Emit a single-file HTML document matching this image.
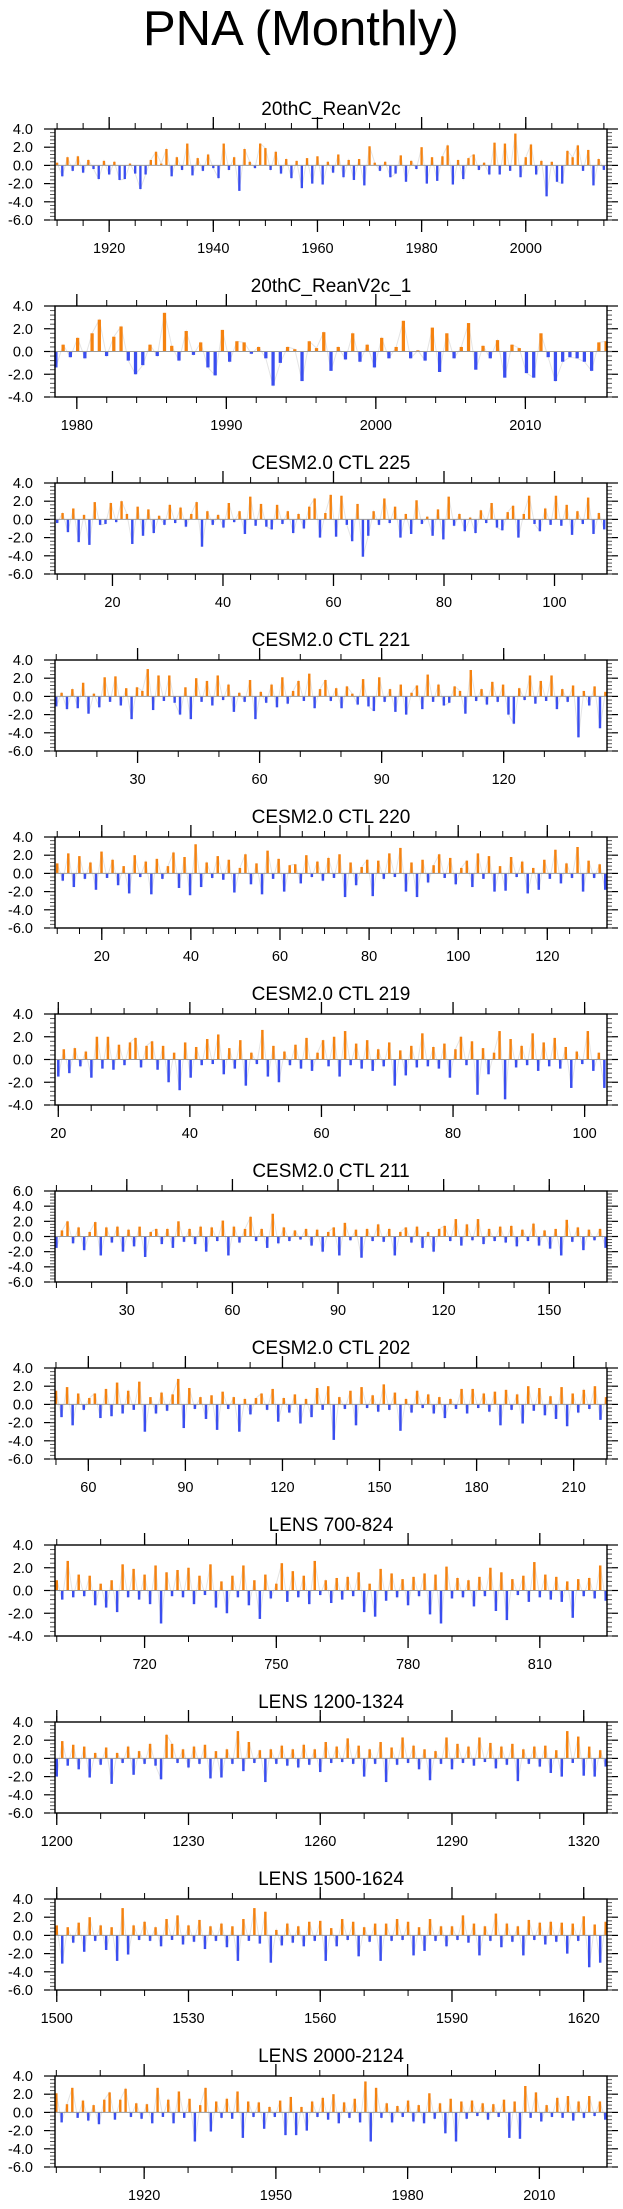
<!DOCTYPE html>
<html><head><meta charset="utf-8">
<style>
html,body{margin:0;padding:0;background:#fff;}
svg{display:block;font-family:"Liberation Sans",Arial,sans-serif;}
</style></head>
<body>
<svg id="chart" width="623" height="2209" viewBox="0 0 623 2209" xmlns="http://www.w3.org/2000/svg">
<text x="143" y="45" font-size="49">PNA (Monthly)</text>
</svg>
<script>
const panelTitles = ["20thC_ReanV2c","20thC_ReanV2c_1","CESM2.0 CTL 225","CESM2.0 CTL 221","CESM2.0 CTL 220","CESM2.0 CTL 219","CESM2.0 CTL 211","CESM2.0 CTL 202","LENS 700-824","LENS 1200-1324","LENS 1500-1624","LENS 2000-2124"];
const xDomains = [[1909.6,2015.6],[1978.54,2015.46],[9.6,109.5],[9.7,145.4],[9.5,133.4],[19.5,103.4],[9.6,166.4],[49.7,220.3],[699.6,825.3],[1199.6,1325.3],[1499.6,1625.3],[1899.7,2025.4]];
const dataSpans = [[1910,2015],[1978.6,2015.4],[10,109],[10,145],[10,133],[20,103],[10,166],[50,220],[700,825],[1200,1325],[1500,1625],[1900,2025]];
const yDomains = [[-6,4],[-4,4],[-6,4],[-6,4],[-6,4],[-4,4],[-6,6],[-6,4],[-4,4],[-6,4],[-6,4],[-6,4]];
const majorTicks = [[1920,1940,1960,1980,2000],[1980,1990,2000,2010],[20,40,60,80,100],[30,60,90,120],[20,40,60,80,100,120],[20,40,60,80,100],[30,60,90,120,150],[60,90,120,150,180,210],[720,750,780,810],[1200,1230,1260,1290,1320],[1500,1530,1560,1590,1620],[1920,1950,1980,2010]];
const minorSteps = [5,2,5,10,5,5,10,10,10,10,10,10];
const s0 = [0.3,-1.2,0.9,-0.6,1.0,-0.8,0.6,-0.4,-1.5,0.5,-1.0,0.4,-1.6,-1.5,0.2,-0.9,-2.6,-1.0,0.6,1.5,0.2,1.8,-1.2,0.9,-0.5,2.4,-1.1,0.8,-0.6,1.2,-0.3,-1.4,2.4,-0.5,0.9,-2.8,1.8,0.4,-0.3,2.4,1.9,-0.5,1.5,-0.9,0.7,-1.4,0.5,-2.5,0.8,-2.0,1.0,-2.1,0.4,-0.8,1.2,-1.3,0.6,-1.6,0.7,-2.2,2.1,0.3,-0.6,0.4,-1.3,-0.9,1.1,-1.8,0.5,-0.4,2.0,-2.0,0.9,-1.7,1.0,2.2,-2.1,0.6,-1.5,0.8,1.2,-0.5,0.3,-1.0,2.5,-1.0,2.4,-0.6,3.5,-1.3,0.9,2.3,-1.0,0.5,-3.4,0.4,-1.8,-2.0,1.6,0.9,2.2,-0.6,1.7,-2.2,0.7,-0.5];
const s1 = [-1.4,0.6,-0.5,1.2,-0.6,1.6,2.8,-0.4,1.3,2.2,-0.8,-2.0,-1.2,0.6,-0.4,3.4,0.5,-0.8,1.8,-0.3,0.8,-1.4,-2.1,1.9,-0.9,0.9,0.8,-0.2,0.4,-0.6,-3.0,-1.0,0.4,0.2,-2.6,0.9,0.3,1.7,-1.7,0.4,-0.7,1.6,-0.9,0.6,-1.4,1.2,-0.6,0.4,2.7,-0.6,0.1,-0.8,2.1,-1.8,1.6,-0.6,0.4,2.5,-1.6,0.5,-0.6,1.0,-2.3,0.6,0.3,-1.9,-2.3,1.6,-0.5,-2.6,-0.9,-0.5,-0.6,-0.9,-1.7,0.8,0.9];
const s2 = [-0.4,0.7,-1.4,1.2,-2.5,0.5,-2.8,1.9,-0.6,-0.5,1.8,-0.3,2.0,0.6,-2.7,1.4,-1.8,1.1,-1.5,0.4,-0.6,1.6,-0.4,1.3,-0.8,0.6,1.9,-3.0,0.9,-0.6,0.5,-0.9,1.8,-0.3,0.9,-1.6,2.5,-0.7,1.7,-0.8,-1.1,1.6,-0.5,0.9,-1.5,0.6,-1.0,1.4,2.3,-2.0,0.7,2.7,-1.9,2.6,-0.6,-2.4,1.7,-4.1,-1.8,0.9,-0.6,2.3,-0.4,1.4,-2.0,0.6,-1.6,2.1,-0.5,0.3,-1.8,1.1,-2.2,2.5,-0.7,0.6,-1.3,0.2,-1.5,1.0,-0.4,1.8,-0.9,-1.2,0.8,1.5,-2.0,0.6,2.6,-0.5,-1.3,1.2,-0.6,2.6,-0.7,1.6,-1.7,0.9,-0.5,2.4,-1.6,0.7,-1.1];
const s3 = [-1.1,0.4,-1.4,0.8,-1.3,1.5,-1.9,0.3,-1.2,2.1,-0.6,2.2,-1.0,0.9,-2.5,1.0,0.6,3.0,-1.5,2.3,-0.5,2.3,-0.7,-2.0,1.0,-2.5,2.0,-0.6,1.7,-1.0,2.3,-0.4,1.3,-1.7,0.4,-0.6,1.8,-2.5,0.5,-0.7,1.3,-1.2,2.1,-0.8,0.6,1.7,-0.5,2.5,-1.3,0.8,1.8,-0.5,0.9,-1.3,1.1,0.3,-0.9,1.9,-1.1,-1.6,2.1,-0.6,0.8,-1.7,1.3,-2.0,0.4,1.2,-1.4,2.4,-0.6,1.3,-1.0,-0.7,1.1,0.6,-1.9,2.9,-0.5,0.8,-0.9,1.6,-0.6,1.3,-2.0,-3.0,0.9,-0.4,2.3,-0.8,1.7,-0.5,2.3,-1.4,0.8,-0.6,1.2,-4.5,0.6,-1.0,1.1,-3.5,0.5];
const s4 = [1.1,-0.8,2.2,-1.5,1.9,-0.6,1.2,-1.8,2.4,-0.5,1.5,-1.3,0.8,-2.2,2.0,-0.4,1.3,-2.3,1.6,-0.6,0.8,2.3,-1.6,1.8,-2.4,3.2,-1.5,1.2,-0.5,1.9,-0.7,1.5,-2.1,0.6,2.1,-1.2,1.1,-2.3,2.5,-0.6,1.6,-2.0,0.9,1.0,-1.1,2.0,-0.4,1.3,-0.8,1.7,-0.5,2.1,-2.6,1.2,-1.3,0.7,1.5,-2.5,1.4,-0.6,2.2,-0.4,2.8,-2.0,1.2,-2.6,1.5,-1.0,0.9,2.1,-0.5,1.7,-1.2,0.6,1.4,-1.5,2.2,-0.6,1.9,-2.0,0.8,-1.9,1.8,-0.4,1.3,-2.2,0.6,-1.8,1.5,-0.6,2.6,-1.1,1.1,-0.5,2.9,-2.0,1.4,-0.5,1.0,-1.8];
const s5 = [-1.5,0.9,-1.2,1.0,-0.6,0.7,-1.6,2.0,-0.8,2.0,-0.9,1.3,-0.5,1.5,1.9,-0.7,1.2,1.6,-0.9,1.2,-2.0,0.6,-2.7,1.5,-1.6,1.1,-0.5,1.8,-0.4,2.2,-1.3,1.0,-0.8,1.7,-2.3,0.6,-0.4,2.6,-1.5,1.2,-2.0,0.7,-0.5,1.3,-0.8,1.9,-1.0,0.6,1.7,-0.6,2.0,-1.5,2.5,-0.5,1.4,-0.8,1.7,-1.0,0.9,-0.6,1.5,-2.3,0.8,-1.4,1.2,-0.7,2.3,-0.6,1.1,-0.8,1.4,-1.6,0.9,2.0,-0.5,1.6,-3.1,1.0,-1.3,0.6,2.5,-3.5,1.8,-0.7,1.2,-0.5,2.3,-1.0,1.5,-0.6,1.9,-0.8,1.1,-2.5,0.7,-0.4,2.5,-1.0,0.6,-2.5];
const s6 = [-1.5,0.8,2.0,-0.9,1.2,-1.8,0.6,1.9,-2.5,1.2,-0.8,1.3,-2.0,0.9,-1.3,1.3,-2.7,0.6,1.0,-1.0,1.0,-1.5,2.0,-0.7,1.0,-1.0,1.3,-2.0,1.2,-0.6,2.1,-2.5,1.3,-0.8,1.0,2.6,-0.6,1.0,-1.5,3.0,-0.9,1.2,-0.6,0.8,-0.4,1.0,-1.2,0.9,-2.0,0.6,1.2,-2.5,1.8,-0.5,0.9,-2.8,1.0,-0.6,1.6,-0.7,1.0,-2.5,0.6,1.2,-0.8,1.3,-1.5,0.6,-2.0,1.0,1.4,-0.6,2.3,-1.2,1.6,-0.5,2.3,-1.0,1.0,-0.6,1.3,-0.8,1.4,-1.3,0.9,-0.6,1.7,-1.2,0.8,-1.6,1.0,-2.5,2.2,-0.7,1.2,-1.8,0.9,-0.5,1.0,-1.5];
const s7 = [1.5,-1.4,1.9,-2.3,1.2,-0.6,0.7,1.2,-1.5,1.7,-1.3,2.4,-1.0,1.5,-0.6,2.5,-3.0,0.8,-1.0,1.3,-0.7,1.1,2.8,-2.6,1.8,-0.5,0.8,-1.6,1.0,-2.8,1.4,-0.5,0.8,-3.0,0.6,-1.1,0.7,1.2,-0.6,1.7,-1.9,0.7,-0.9,1.1,-2.1,0.6,-1.4,1.8,-0.6,2.0,-3.9,0.8,-0.5,1.5,-2.3,1.9,-0.4,1.0,-0.8,2.2,-0.6,1.3,-2.9,0.6,-0.9,1.5,-0.4,1.1,-1.0,0.8,-1.5,0.6,-0.5,1.7,-1.0,1.7,-0.4,1.2,-0.8,1.4,-2.3,1.6,-0.6,1.1,-2.1,2.0,-0.7,1.8,-1.2,0.9,-1.6,1.9,-2.4,1.2,-0.9,1.6,-0.5,2.0,-1.7,0.8];
const s8 = [0.9,-0.8,2.6,-0.6,1.4,-0.5,1.3,-1.3,0.6,-1.5,0.9,-1.9,2.3,-0.6,1.9,-0.8,1.4,-1.2,2.2,-2.9,1.6,-0.5,1.8,-0.6,2.0,-1.2,1.3,-0.4,2.3,-1.5,0.8,-2.0,1.3,-0.6,2.2,-1.3,0.9,-2.5,1.4,-0.7,0.6,2.4,-1.0,1.7,-0.6,1.3,-1.2,2.6,-0.4,0.9,-1.1,1.1,-0.8,1.2,-0.5,1.6,-1.9,0.6,-2.3,1.9,-0.9,1.5,-0.6,1.0,-1.3,1.2,-0.5,1.5,-2.1,1.4,-2.9,2.1,-0.7,1.1,-0.6,0.9,-1.4,1.2,-0.5,2.0,-1.8,1.6,-2.6,1.0,-0.4,1.3,-1.0,2.5,-0.6,1.4,-0.8,1.2,-1.0,0.8,-2.4,1.0,-0.5,1.1,-0.7,2.2,-0.9];
const s9 = [-2.0,1.9,-0.8,1.5,-1.2,1.3,-2.1,0.6,-0.7,1.2,-2.8,0.6,-0.5,1.3,-1.8,0.8,-0.6,1.6,-0.8,-2.3,2.6,1.6,-0.5,1.0,-1.0,1.3,-0.6,1.5,-2.2,0.8,-2.1,1.0,-0.6,3.0,-1.4,1.8,-0.5,0.9,-2.6,1.0,-0.6,1.4,-0.8,1.0,-1.0,1.5,-0.7,1.0,-1.5,1.8,-0.5,1.3,-0.4,2.2,-0.6,1.4,-2.0,1.0,-0.6,1.8,-2.6,1.2,-0.7,2.3,-0.5,1.4,-1.2,1.0,-2.4,0.8,-0.6,2.3,-1.2,1.6,-0.5,1.3,-0.8,2.3,-0.4,1.7,-1.1,1.3,-0.7,1.6,-2.5,1.0,-0.6,1.3,-0.9,1.4,-1.6,0.9,-2.0,3.0,-0.5,2.4,-1.9,1.3,-2.0,0.9,-0.9];
const s10 = [1.1,-3.1,0.9,-0.8,1.4,-1.8,2.0,-0.6,1.1,-1.6,0.9,-2.8,3.0,-2.1,1.1,-0.5,1.5,-0.6,0.9,-1.2,1.8,-0.5,2.2,-1.0,1.1,-0.7,1.7,-1.5,1.0,-0.6,1.3,-1.3,1.0,-2.8,1.8,-0.6,3.0,-0.9,2.6,-3.0,0.6,-1.1,1.3,-0.8,1.0,-1.2,1.5,-0.6,1.6,-2.8,0.8,-1.2,1.8,-0.5,1.5,-2.3,0.9,-0.7,1.3,-2.8,1.3,-0.6,1.8,-0.5,1.5,-2.2,0.9,-1.7,1.8,-0.6,1.0,-1.2,1.0,-0.5,2.2,-0.8,1.3,-2.2,1.0,-0.6,2.4,-1.3,1.3,-0.7,1.0,-2.2,1.7,-0.5,1.4,-1.0,1.5,-0.7,1.4,-2.0,1.3,-0.6,2.1,-3.5,1.2,-3.0,1.5];
const s11 = [2.1,-1.1,0.9,2.7,-0.6,1.3,-0.9,0.8,-1.3,1.4,2.2,-0.8,1.4,2.6,-0.5,1.0,-0.7,0.9,-1.2,2.7,-0.5,1.4,-1.2,2.3,-0.6,1.5,-3.2,0.8,2.7,-2.1,1.2,-0.6,1.5,-0.7,2.3,-2.8,1.2,-0.5,1.1,-1.8,0.6,-0.5,1.3,-2.5,1.7,-2.5,0.6,-2.0,1.2,-0.5,1.6,-0.8,2.0,-1.2,1.1,-0.6,1.5,-1.1,3.4,-3.2,2.7,-0.6,1.0,-1.1,0.7,-0.5,1.3,-1.0,0.8,-1.2,2.1,-0.7,1.0,-2.3,1.5,-3.2,1.2,-0.7,1.3,-0.4,1.0,-0.8,0.9,-0.5,1.4,-2.8,1.2,-2.9,2.9,-0.6,2.2,-1.0,0.8,-0.5,1.6,-0.6,1.8,-0.9,1.2,-0.6,1.8,-0.4,1.2,-0.8];
const seriesValues = [s0,s1,s2,s3,s4,s5,s6,s7,s8,s9,s10,s11];

const NS = "http://www.w3.org/2000/svg";
const svg = document.getElementById('chart');
function mk(tag, attrs, parent){
  const e = document.createElementNS(NS, tag);
  for (const k in attrs) e.setAttribute(k, attrs[k]);
  (parent||svg).appendChild(e);
  return e;
}
const L = 55, R = 607, H = 91, TOP0 = 129, GAP = 177;

panelTitles.forEach((title, i) => {
  const top = TOP0 + GAP*i, bot = top + H;
  const [x0,x1] = xDomains[i];
  const [y0,y1] = yDomains[i];
  const xs = v => L + (v - x0) / (x1 - x0) * (R - L);
  const ys = v => bot - (v - y0) / (y1 - y0) * H;
  const g = mk('g', {});
  
  

  const t = mk('text', {x: (L+R)/2, y: top-14, 'font-size': 19, 'text-anchor': 'middle'}, g);
  
  
  t.textContent = title;

  const vals = seriesValues[i];
  const [d0,d1] = dataSpans[i];
  const n = vals.length;
  const step = (d1 - d0) / (n - 1);

  // faint raw line
  const pts = vals.map((v,k) => xs(d0 + k*step).toFixed(1) + ',' + ys(v).toFixed(1)).join(' ');
  const pl = mk('polyline', {points: pts, fill: 'none', stroke: '#e4e4e4', 'stroke-width': 1}, g);
  
  

  const bw = Math.max(1.6, (xs(d0+step) - xs(d0)) * 0.45);
  vals.forEach((v, k) => {
    const xc = xs(d0 + k*step);
    const yv = ys(v), yz = ys(0);
    const r = mk('rect', {x: (xc - bw/2).toFixed(2), y: Math.min(yv,yz).toFixed(2), width: bw.toFixed(2), height: Math.abs(yv-yz).toFixed(2), fill: v >= 0 ? '#f5820f' : '#3a4ef0'}, g);
    
    
  });
  const z = mk('line', {x1: L, x2: R, y1: ys(0), y2: ys(0), stroke: '#999', 'stroke-width': 1}, g);
  
  

  for (let v = y0; v <= y1 + 1e-9; v += 2) {
    const y = ys(v);
    mk('line', {x1: L-11, x2: L, y1: y, y2: y, stroke: '#000', 'stroke-width': 1.2}, g);
    mk('line', {x1: R, x2: R+11, y1: y, y2: y, stroke: '#000', 'stroke-width': 1.2}, g);
    const lab = mk('text', {x: 33, y: y+5, 'font-size': 14.5, 'text-anchor': 'end'}, g);
    
    
    lab.textContent = v.toFixed(1);
  }
  for (let v = y0; v < y1 - 1e-9; v += 0.4) {
    const y = ys(v);
    mk('line', {x1: L-5, x2: L, y1: y, y2: y, stroke: '#555', 'stroke-width': 1}, g);
    mk('line', {x1: R, x2: R+5, y1: y, y2: y, stroke: '#555', 'stroke-width': 1}, g);
  }
  const ms = minorSteps[i];
  for (let v = Math.ceil(x0/ms)*ms; v <= x1; v += ms) {
    const x = xs(v);
    mk('line', {x1: x, x2: x, y1: bot, y2: bot+6, stroke: '#000', 'stroke-width': 1}, g);
    mk('line', {x1: x, x2: x, y1: top, y2: top-6, stroke: '#000', 'stroke-width': 1}, g);
  }
  majorTicks[i].forEach(v => {
    const x = xs(v);
    mk('line', {x1: x, x2: x, y1: bot, y2: bot+12, stroke: '#000', 'stroke-width': 1.3}, g);
    mk('line', {x1: x, x2: x, y1: top, y2: top-12, stroke: '#000', 'stroke-width': 1.3}, g);
    const lab = mk('text', {x: x, y: bot+33, 'font-size': 14.5, 'text-anchor': 'middle'}, g);
    
    
    lab.textContent = String(v);
  });
  const box = mk('rect', {x: L, y: top, width: R-L, height: H, fill: 'none', stroke: '#000', 'stroke-width': 1.4}, g);
  
  
});
</script>
</body></html>
